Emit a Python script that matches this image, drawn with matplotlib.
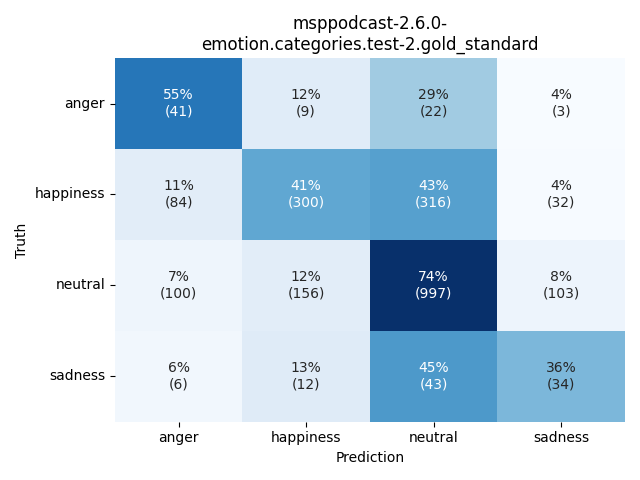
import matplotlib
matplotlib.use("Agg")
import matplotlib.pyplot as plt
import seaborn as sns
import numpy as np

labels = ["anger", "happiness", "neutral", "sadness"]
counts = np.array([
    [41, 9, 22, 3],
    [84, 300, 316, 32],
    [100, 156, 997, 103],
    [6, 12, 43, 34],
])

pct = counts / counts.sum(axis=1, keepdims=True) * 100
annot = np.array([[f"{pct[i, j]:.0f}%\n({counts[i, j]})" for j in range(4)] for i in range(4)])

fig, ax = plt.subplots(figsize=(6.4, 4.8), dpi=100)
sns.heatmap(pct, annot=annot, fmt="", cmap="Blues", cbar=False,
            xticklabels=labels, yticklabels=labels, ax=ax)
ax.set_yticklabels(labels, rotation=0)
ax.set_xlabel("Prediction")
ax.set_ylabel("Truth")
ax.set_title("msppodcast-2.6.0-\nemotion.categories.test-2.gold_standard")
fig.tight_layout()
fig.savefig("out.png")
